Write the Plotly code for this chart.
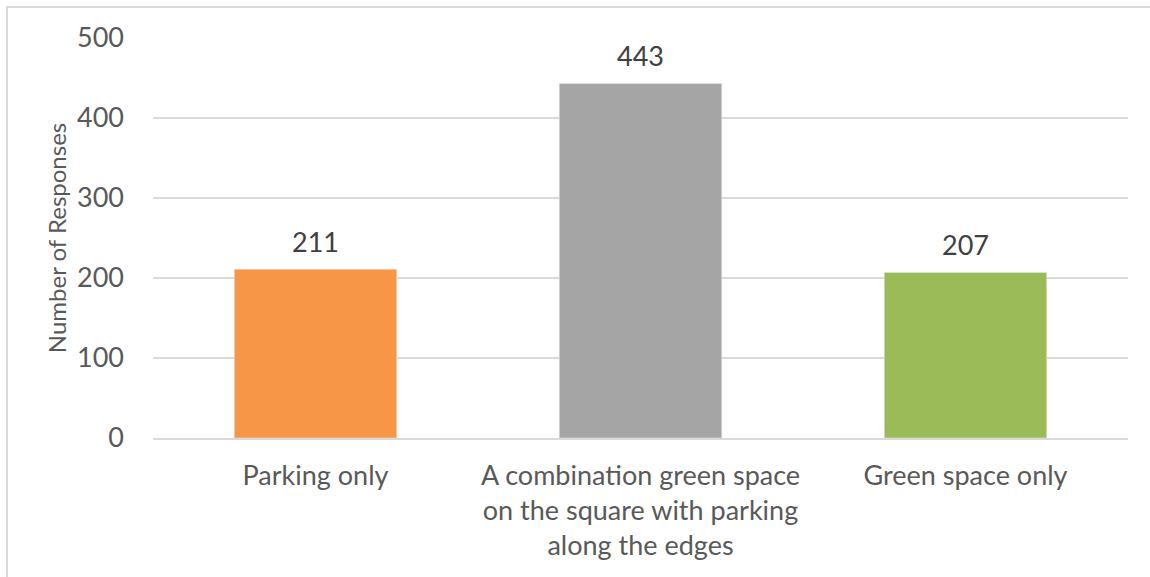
import plotly.graph_objects as go

categories = ["Parking only",
              "A combination green space<br>on the square with parking<br>along the edges",
              "Green space only"]
values = [211, 443, 207]
colors = ["#F79646", "#A5A5A5", "#9BBB59"]
y_ticks = [0, 100, 200, 300, 400, 500]

W, H = 1150, 577
L, R, T, B = 153, 22, 38, 139
pw, ph = W - L - R, H - T - B

fig = go.Figure(go.Bar(
    x=categories, y=values, marker_color=colors, width=0.5,
))

for c, v in zip(categories, values):
    fig.add_annotation(x=c, y=v, text=str(v), showarrow=False, yanchor="middle",
                       yshift=28, font=dict(size=27, color="#404040"))

fig.update_layout(
    width=W, height=H,
    margin=dict(l=L, r=R, t=T, b=B),
    plot_bgcolor="white", paper_bgcolor="white",
    font=dict(family="Lato, Open Sans, sans-serif", color="#595959", size=27),
    showlegend=False,
    xaxis=dict(showgrid=False, showline=True, linecolor="#d9d9d9", linewidth=1.5,
               ticks="", ticklabelstandoff=13, tickfont=dict(size=27, color="#595959")),
    yaxis=dict(range=[0, 500], tickvals=y_ticks, showgrid=True, gridcolor="#d9d9d9",
               gridwidth=1.5, zeroline=False, showline=False, ticks="",
               ticklabelstandoff=28,
               tickfont=dict(size=27, color="#595959"),
               title=dict(text="Number of Responses", font=dict(size=24, color="#595959"),
                          standoff=3)),
    shapes=[dict(type="rect", xref="paper", yref="paper",
                 x0=(7 - L) / pw, x1=(W + 5 - L) / pw,
                 y0=-(H + 5 - T - ph) / ph, y1=1 + (T - 7) / ph,
                 line=dict(color="#d9d9d9", width=2), fillcolor="rgba(0,0,0,0)",
                 layer="below")],
)

fig.write_html("out.html", config={"displayModeBar": False},
               post_script="document.body.style.margin='0';")
